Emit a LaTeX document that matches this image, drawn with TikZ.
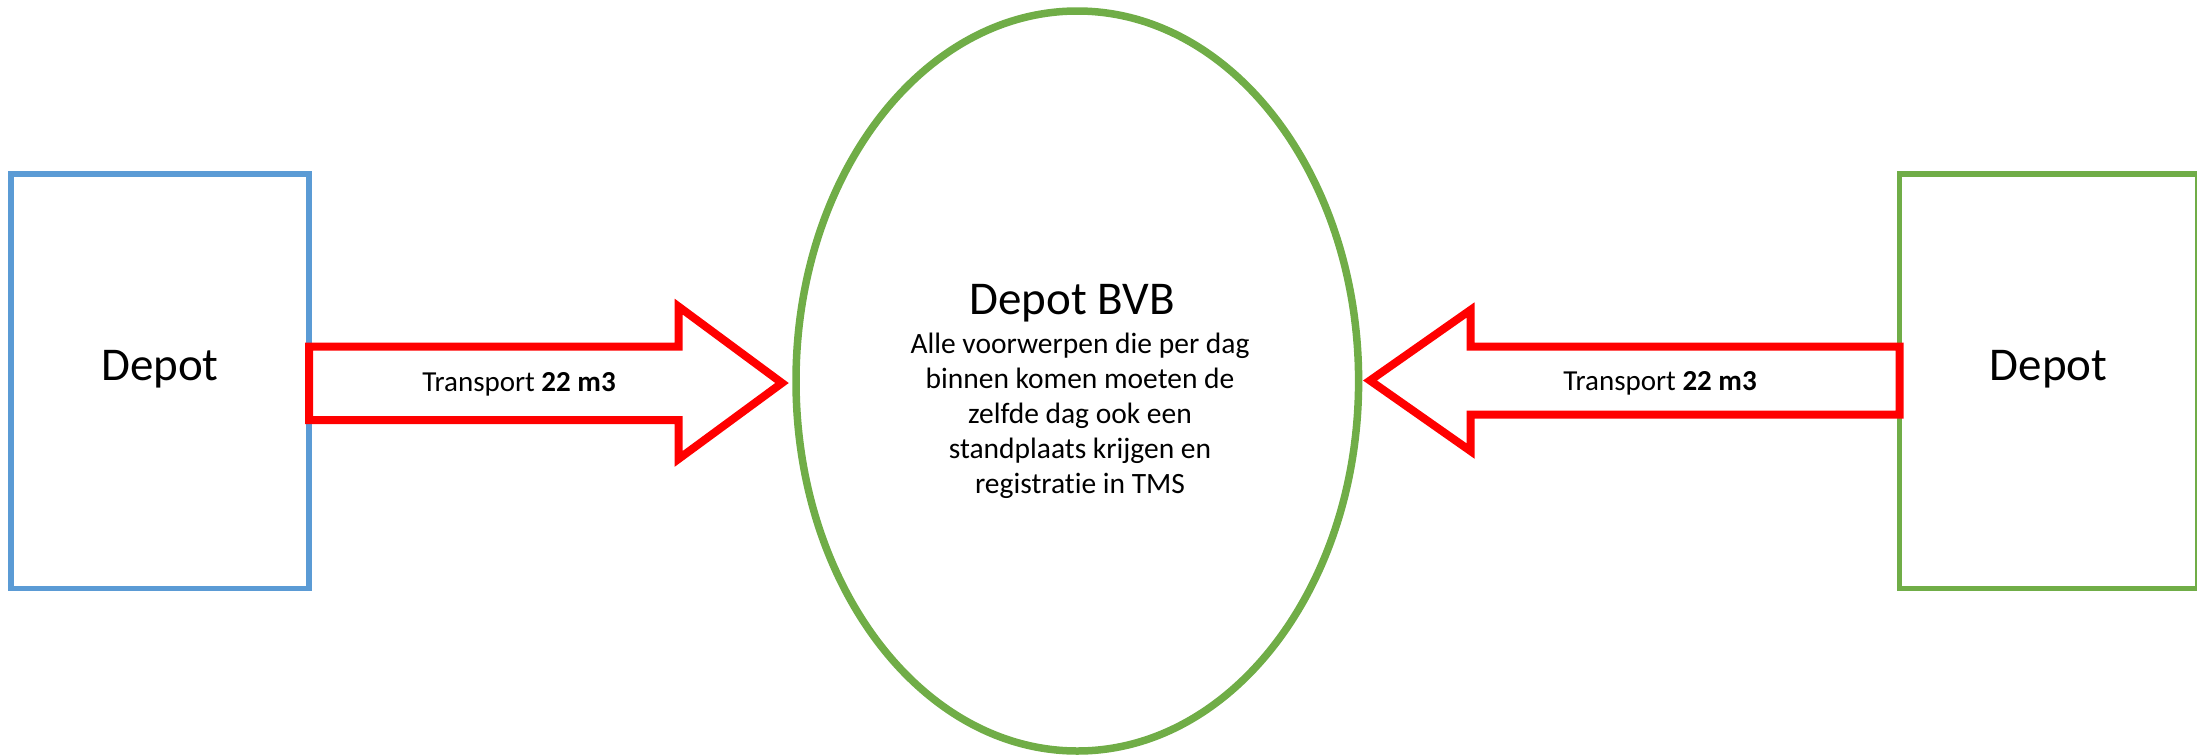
\documentclass[tikz,border=0pt]{standalone}
\usepackage{fontspec}
\setmainfont{Carlito}[Ligatures=NoCommon]
\usetikzlibrary{shapes.geometric}
\definecolor{boxblue}{HTML}{5B9BD5}
\definecolor{boxgreen}{HTML}{70AD47}
\definecolor{arrowred}{HTML}{FF0000}
\tikzset{
  depotbox/.style={draw, line width=5.5pt, rectangle, inner sep=0pt, minimum width=298pt, minimum height=414.7pt},
  bvbell/.style={draw=boxgreen, line width=7.5pt, ellipse, inner sep=0pt, minimum width=562.6pt, minimum height=740pt},
  blockarrow/.style={draw=arrowred, line width=8pt, line join=miter, fill=white},
  bigtext/.style={font=\fontsize{47}{56}\selectfont, inner sep=0pt, anchor=base},
  bodytext/.style={font=\fontsize{29.5}{35}\selectfont, inner sep=0pt, align=center, anchor=base},
  arrowtext/.style={font=\fontsize{29}{34}\selectfont, inner sep=0pt, anchor=base}
}
\begin{document}
\begin{tikzpicture}[x=1pt,y=-1pt]
\useasboundingbox (0,0) rectangle (2197,755);
% boxes and ellipse
\node[depotbox, draw=boxblue] (left) at (159.75,381.3) {};
\node[depotbox, draw=boxgreen] (right) at (2048.5,381.3) {};
\node[bvbell] (bvb) at (1077.3,381) {};
% block arrows
\draw[blockarrow] (309,346.5) -- (678.5,346.5) -- (678.5,306.5) -- (782,383) -- (678.5,459) -- (678.5,420) -- (309,420) -- cycle;
\draw[blockarrow] (1899.5,346.5) -- (1470.5,346.5) -- (1470.5,310) -- (1370,380.5) -- (1470.5,451) -- (1470.5,414.5) -- (1899.5,414.5) -- cycle;
% texts
\node[bigtext] (lefttext) at (160,380) {Depot};
\node[bigtext] (righttext) at (2048.7,380) {Depot};
\node[bigtext] (bvbtitle) at (1072,314) {Depot BVB};
\node[bodytext] (bvbbody) at (1080,493.3) {Alle voorwerpen die per dag\\binnen komen moeten de\\zelfde dag ook een\\standplaats krijgen en\\registratie in TMS};
\node[arrowtext] (lefttransport) at (519,391.7) {Transport \textbf{22 m3}};
\node[arrowtext] (righttransport) at (1660,390) {Transport \textbf{22 m3}};
\end{tikzpicture}
\end{document}
